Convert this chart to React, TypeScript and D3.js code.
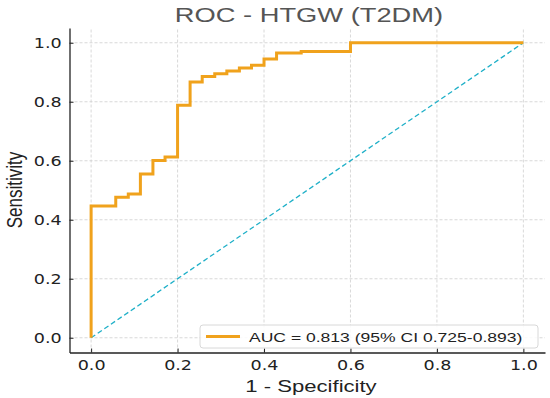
import React, { useEffect, useRef } from 'react';
import * as d3 from 'd3';

// ROC corner points (1 - specificity, sensitivity)
const fpr = [0, 0, 0.057, 0.086, 0.114, 0.143, 0.171, 0.2, 0.229, 0.257, 0.286, 0.314, 0.343, 0.371, 0.4, 0.429, 0.486, 0.6, 1.0];
const tpr = [0, 0.447, 0.476, 0.487, 0.555, 0.601, 0.613, 0.788, 0.867, 0.886, 0.895, 0.904, 0.914, 0.924, 0.945, 0.965, 0.97, 1.0, 1.0];
const ticks = [0, 0.2, 0.4, 0.6, 0.8, 1.0];
const chartTitle = 'ROC - HTGW (T2DM)';
const legendLabel = 'AUC = 0.813 (95% CI 0.725-0.893)';

const width = 550;
const height = 398;
const margin = { top: 28, right: 5, bottom: 45.5, left: 69.5 };
const orange = '#f0a21c';
const teal = '#1fb0c8';
// the picture is stretched sideways, so text is too
const sx = 1.3;

function App() {
  const svgRef = useRef<SVGSVGElement>(null);

  useEffect(() => {
    const svg = d3.select(svgRef.current);
    svg.selectAll('*').remove();

    const x = d3.scaleLinear().domain([-0.05, 1.05]).range([margin.left, width - margin.right]);
    const y = d3.scaleLinear().domain([-0.05, 1.05]).range([height - margin.bottom, margin.top]);

    // grid
    const grid = svg.append('g');
    grid.selectAll('line.gx').data(ticks).join('line')
      .attr('x1', d => x(d)).attr('x2', d => x(d))
      .attr('y1', y(-0.05)).attr('y2', y(1.05))
      .attr('stroke', '#cfcfcf').attr('stroke-width', 0.8).attr('stroke-dasharray', '3,2');
    grid.selectAll('line.gy').data(ticks).join('line')
      .attr('y1', d => y(d)).attr('y2', d => y(d))
      .attr('x1', x(-0.05)).attr('x2', x(1.05))
      .attr('stroke', '#cfcfcf').attr('stroke-width', 0.8).attr('stroke-dasharray', '3,2');

    // chance line
    svg.append('line')
      .attr('x1', x(0)).attr('y1', y(0)).attr('x2', x(1)).attr('y2', y(1))
      .attr('stroke', teal).attr('stroke-width', 1.3).attr('stroke-dasharray', '5,3');

    // ROC curve
    const pts = fpr.map((f, i) => [f, tpr[i]] as [number, number]);
    const line = d3.line<[number, number]>()
      .x(d => x(d[0])).y(d => y(d[1]))
      .curve(d3.curveStepAfter);
    svg.append('path').datum(pts)
      .attr('d', line)
      .attr('fill', 'none').attr('stroke', orange).attr('stroke-width', 3);

    // axes (ticks inward)
    const xAxis = svg.append('g')
      .attr('transform', `translate(0,${height - margin.bottom})`)
      .call(d3.axisBottom(x).tickValues(ticks).tickFormat(d3.format('.1f')).tickSizeInner(-4).tickSizeOuter(0).tickPadding(8));
    const yAxis = svg.append('g')
      .attr('transform', `translate(${margin.left},0)`)
      .call(d3.axisLeft(y).tickValues(ticks).tickFormat(d3.format('.1f')).tickSizeInner(-4).tickSizeOuter(0).tickPadding(6));
    [xAxis, yAxis].forEach(g => {
      g.select('.domain').attr('stroke', '#222').attr('stroke-width', 1.3);
      g.selectAll('.tick line').attr('stroke', '#222');
      g.selectAll('.tick text')
        .attr('font-family', 'DejaVu Sans').attr('font-size', 13.5).attr('fill', '#222')
        .attr('transform', `scale(${sx},1)`);
    });

    const stretchText = (tx: number, ty: number, rot = 0) =>
      `translate(${tx},${ty}) scale(${sx},1)${rot ? ` rotate(${rot})` : ''}`;

    // title and labels
    svg.append('text')
      .attr('transform', stretchText(309, 22))
      .attr('text-anchor', 'middle')
      .attr('font-family', 'Liberation Sans').attr('font-size', 21).attr('fill', '#555')
      .text(chartTitle);
    svg.append('text')
      .attr('transform', stretchText(311, 392))
      .attr('text-anchor', 'middle')
      .attr('font-family', 'Liberation Sans').attr('font-size', 17).attr('fill', '#222')
      .text('1 - Specificity');
    svg.append('text')
      .attr('transform', stretchText(22, 190, -90))
      .attr('text-anchor', 'middle')
      .attr('font-family', 'Liberation Sans').attr('font-size', 17).attr('fill', '#222')
      .text('Sensitivity');

    // legend
    const lg = svg.append('g');
    lg.append('rect')
      .attr('x', 200).attr('y', 325).attr('width', 338).attr('height', 23).attr('rx', 3)
      .attr('fill', 'white').attr('fill-opacity', 0.85).attr('stroke', '#d8d8d8');
    lg.append('line')
      .attr('x1', 206).attr('x2', 240).attr('y1', 336.5).attr('y2', 336.5)
      .attr('stroke', orange).attr('stroke-width', 3);
    lg.append('text')
      .attr('transform', stretchText(249, 341.5))
      .attr('font-family', 'Liberation Sans').attr('font-size', 13.5).attr('fill', '#222')
      .text(legendLabel);
  }, []);

  return <svg ref={svgRef} width={width} height={height} style={{ display: 'block', position: 'absolute', left: 0, top: 0, background: 'white' }} />;
}

export default App;
